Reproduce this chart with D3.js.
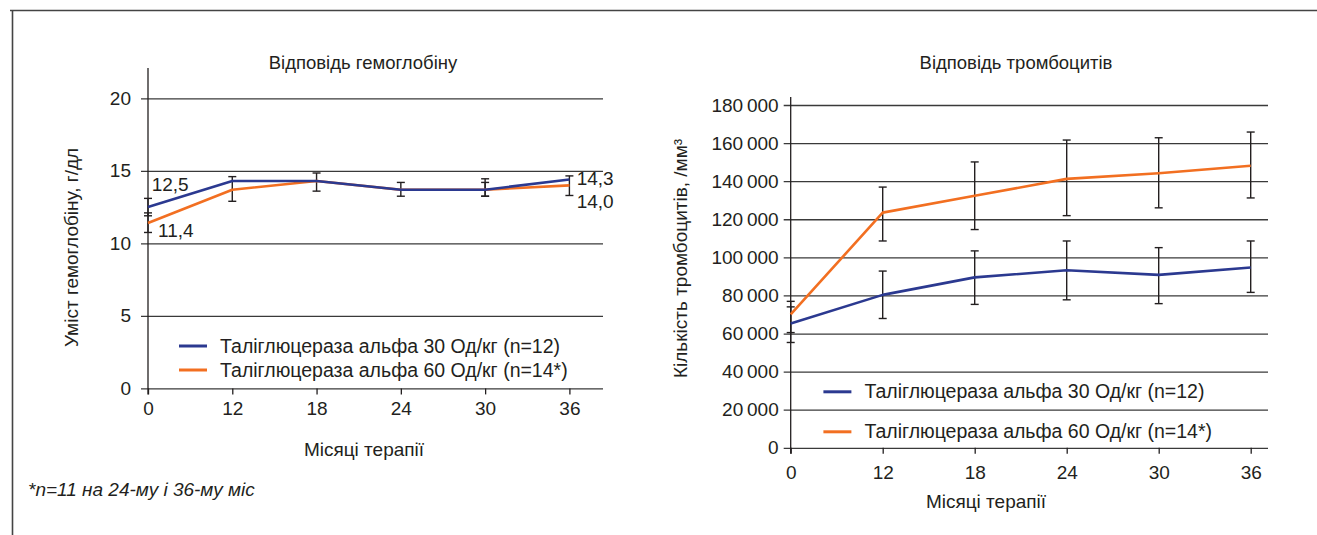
<!DOCTYPE html>
<html>
<head>
<meta charset="utf-8">
<script src="https://cdn.jsdelivr.net/npm/d3@7"></script>
<style>
  body { margin: 0; background: #fff; }
  svg text { font-family: "Liberation Sans", Arial, sans-serif; fill: #231f20; }
</style>
</head>
<body>
<svg id="chart" width="1317" height="535"></svg>
<script>
const months = ['0', '12', '18', '24', '30', '36'];
const seriesNames = ['Таліглюцераза альфа 30 Од/кг (n=12)', 'Таліглюцераза альфа 60 Од/кг (n=14*)'];

// hemoglobin, g/dl
const hbDose30 = [12.5, 14.3, 14.3, 13.7, 13.7, 14.4];
const hbDose60 = [11.4, 13.7, 14.3, 13.7, 13.7, 14.0];
const hbErr30 = [[11.9, 13.1], null, [13.6, 14.85], [13.25, 14.2], [13.25, 14.45], [13.3, 14.65]];
const hbErr60 = [[10.75, 12.1], [12.9, 14.6], null, null, [13.25, 14.2], null];
const hbTicks = [0, 5, 10, 15, 20];
const hbValueLabels = ['12,5', '11,4', '14,3', '14,0'];

// platelets, /mm3
const pltDose30 = [65300, 80300, 89500, 93200, 90800, 94700];
const pltDose60 = [70000, 123500, 132300, 141200, 144200, 148100];
const pltErr30 = [[55300, 74000], [67900, 92800], [75300, 103400], [77700, 108600], [75700, 105100], [81600, 108600]];
const pltErr60 = [[60500, 76900], [108600, 136900], [114600, 150100], [121900, 161600], [126000, 162800], [131200, 165800]];
const pltTicks = [0, 20000, 40000, 60000, 80000, 100000, 120000, 140000, 160000, 180000];

const colors = ['#2b3990', '#f26f21'];
const ink = '#231f20';

const svg = d3.select('#chart');

// frame
svg.append('line').attr('x1', 10).attr('x2', 1317).attr('y1', 10.5).attr('y2', 10.5)
  .attr('stroke', '#444').attr('stroke-width', 1.6);
svg.append('line').attr('x1', 12.5).attr('x2', 12.5).attr('y1', 10).attr('y2', 535)
  .attr('stroke', '#444').attr('stroke-width', 1.6);

function drawPanel(cfg) {
  const g = svg.append('g');
  const x = d3.scalePoint().domain(months).range([cfg.left, cfg.lastX]);
  const y = d3.scaleLinear().domain([0, cfg.yMax]).range([cfg.bottom, cfg.top]);

  // gridlines and y tick labels
  const yAxis = g.append('g')
    .attr('transform', `translate(${cfg.left},0)`)
    .call(d3.axisLeft(y).tickValues(cfg.ticks).tickFormat(cfg.fmt)
      .tickSize(-(cfg.gridRight - cfg.left)).tickPadding(cfg.yPad))
    .attr('font-size', 19).attr('font-family', null);
  yAxis.select('.domain').remove();
  yAxis.selectAll('.tick line').attr('x1', -7).attr('stroke', '#3a3a3a').attr('stroke-width', 1.3);

  // x axis ticks
  const xAxis = g.append('g')
    .attr('transform', `translate(0,${cfg.bottom})`)
    .call(d3.axisBottom(x).tickSize(6).tickPadding(cfg.xPad))
    .attr('font-size', 19).attr('font-family', null);
  xAxis.select('.domain').remove();
  xAxis.selectAll('.tick line').attr('stroke', ink).attr('stroke-width', 1.3);

  // y axis line
  g.append('line')
    .attr('x1', cfg.left).attr('x2', cfg.left)
    .attr('y1', cfg.axisTop).attr('y2', cfg.bottom + 6)
    .attr('stroke', ink).attr('stroke-width', 1.3);

  // error bars
  cfg.errors.forEach(errs => {
    errs.forEach((e, i) => {
      if (!e) return;
      const cx = x(months[i]);
      const eb = g.append('g').attr('stroke', ink).attr('stroke-width', 1.4);
      eb.append('line').attr('x1', cx).attr('x2', cx).attr('y1', y(e[0])).attr('y2', y(e[1]));
      eb.append('line').attr('x1', cx - 4).attr('x2', cx + 4).attr('y1', y(e[0])).attr('y2', y(e[0]));
      eb.append('line').attr('x1', cx - 4).attr('x2', cx + 4).attr('y1', y(e[1])).attr('y2', y(e[1]));
    });
  });

  // series lines, 60 first so 30 sits on top
  const line = d3.line().x((d, i) => x(months[i])).y(d => y(d));
  [1, 0].forEach(s => {
    g.append('path').datum(cfg.series[s])
      .attr('d', line)
      .attr('fill', 'none')
      .attr('stroke', colors[s])
      .attr('stroke-width', 2.6)
      .attr('stroke-linejoin', 'round');
  });

  // titles
  g.append('text').attr('x', cfg.titleX).attr('y', 69)
    .attr('text-anchor', 'middle').attr('font-size', 18.5).text(cfg.title);
  g.append('text').attr('x', cfg.xTitleX).attr('y', cfg.xTitleY)
    .attr('text-anchor', 'middle').attr('font-size', 19).text('Місяці терапії');
  g.append('text')
    .attr('transform', `translate(${cfg.yTitleX},${cfg.yTitleY}) rotate(-90)`)
    .attr('text-anchor', 'middle').attr('dy', '0.35em').attr('font-size', 19)
    .text(cfg.yTitle);

  // legend
  seriesNames.forEach((name, i) => {
    const ly = cfg.legendY + i * cfg.legendGap;
    g.append('line').attr('x1', cfg.legendX).attr('x2', cfg.legendX + 28)
      .attr('y1', ly).attr('y2', ly)
      .attr('stroke', colors[i]).attr('stroke-width', 3);
    g.append('text').attr('x', cfg.legendX + 41).attr('y', ly + 6.5)
      .attr('font-size', 19.5).text(name);
  });

  return {x, y, g};
}

const hb = drawPanel({
  left: 148, lastX: 569.4, gridRight: 603,
  top: 98.3, bottom: 388.4, axisTop: 68, yMax: 20,
  ticks: hbTicks, fmt: d3.format('d'), yPad: 17, xPad: 7,
  series: [hbDose30, hbDose60], errors: [hbErr60, hbErr30],
  title: 'Відповідь гемоглобіну', titleX: 363,
  xTitleX: 364, xTitleY: 456,
  yTitle: 'Уміст гемоглобіну, г/дл', yTitleX: 71.5, yTitleY: 247.5,
  legendX: 179, legendY: 346, legendGap: 24
});

// value labels beside the first and last points
const last = months.length - 1;
const labelSpots = [
  {v: hbDose30[0], i: 0, dx: 3.7, dy: -16.2},
  {v: hbDose60[0], i: 0, dx: 10, dy: 13.5},
  {v: hbDose30[last], i: last, dx: 7.3, dy: 5.6},
  {v: hbDose60[last], i: last, dx: 7.3, dy: 22.3}
];
labelSpots.forEach((p, k) => {
  hb.g.append('text')
    .attr('x', hb.x(months[p.i]) + p.dx)
    .attr('y', hb.y(p.v) + p.dy)
    .attr('font-size', 19)
    .text(hbValueLabels[k]);
});

drawPanel({
  left: 790.7, lastX: 1250.7, gridRight: 1268,
  top: 105, bottom: 447.8, axisTop: 97, yMax: 180000,
  ticks: pltTicks, fmt: d => d3.format(',')(d).replace(/,/g, '\u2009'), yPad: 12, xPad: 12,
  series: [pltDose30, pltDose60], errors: [pltErr60, pltErr30],
  title: 'Відповідь тромбоцитів', titleX: 1016,
  xTitleX: 986, xTitleY: 508,
  yTitle: 'Кількість тромбоцитів, /мм³', yTitleX: 680, yTitleY: 258.5,
  legendX: 823.4, legendY: 391.8, legendGap: 40
});

svg.append('text').attr('x', 28).attr('y', 496)
  .attr('font-size', 19).attr('font-style', 'italic')
  .text('*n=11 на 24-му і 36-му міс');
</script>
</body>
</html>
